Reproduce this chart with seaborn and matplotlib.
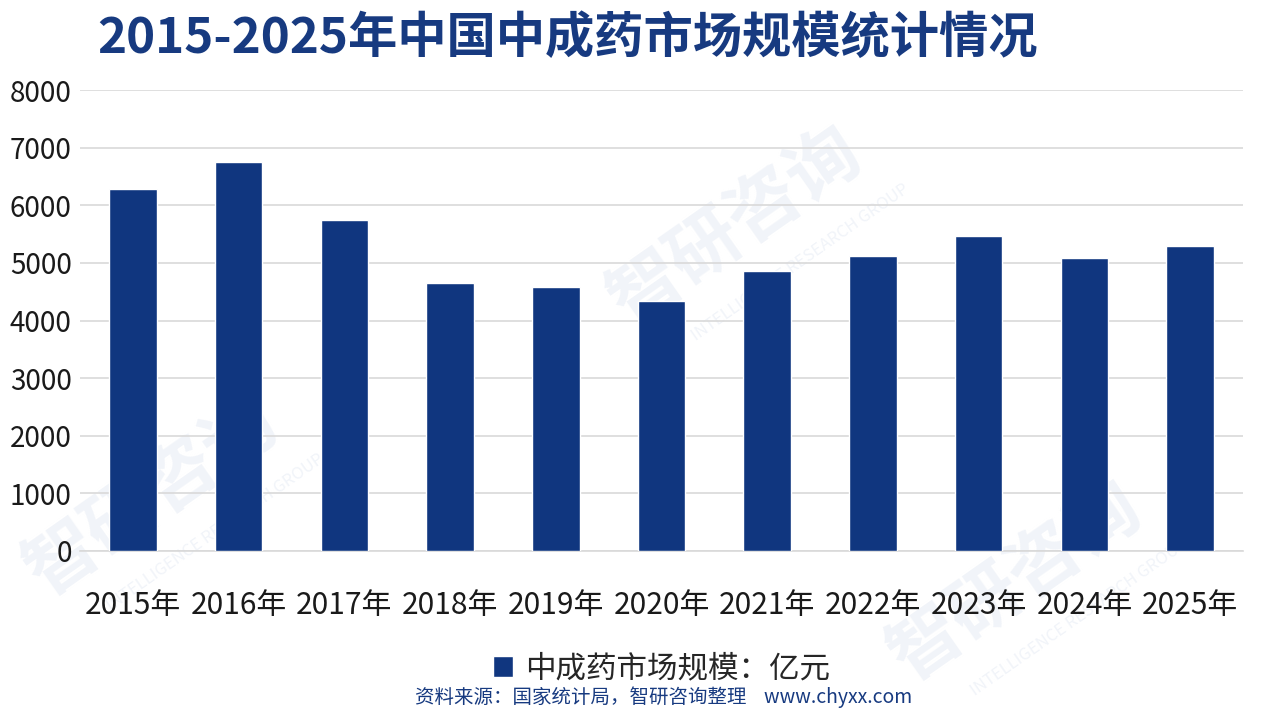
import pandas as pd
import matplotlib.pyplot as plt
import seaborn as sns

# 数据（亿元）
years = ['2015年', '2016年', '2017年', '2018年', '2019年', '2020年',
         '2021年', '2022年', '2023年', '2024年', '2025年']
market_size = [6285, 6753, 5747, 4653, 4583, 4340, 4861, 5122, 5469, 5087, 5295]
series_name = '中成药市场规模：亿元'
y_ticks = [0, 1000, 2000, 3000, 4000, 5000, 6000, 7000, 8000]

df = pd.DataFrame({'年份': years, '规模': market_size, '系列': series_name})

sns.set_theme(style='white')
plt.rcParams['font.family'] = ['Noto Sans CJK SC', 'DejaVu Sans']

bar_color = '#10367f'
title_color = '#173a80'

fig = plt.figure(figsize=(12.7, 7.1), dpi=100)
ax = fig.add_axes([80 / 1270, 1 - 551 / 710, 1163 / 1270, 461 / 710])
ax.set_zorder(2)

# 水印（放在图表后面）
wm = '#f1f4f9'
for x, y in [(0.58, 0.68), (0.12, 0.30), (0.80, 0.18)]:
    fig.text(x, y, '智研咨询', fontsize=52, color=wm, rotation=35,
             ha='center', va='center', fontweight='bold', zorder=-5)
    fig.text(x + 0.05, y - 0.05, 'INTELLIGENCE RESEARCH GROUP', fontsize=12,
             color=wm, rotation=35, ha='center', va='center', zorder=-5)

sns.barplot(data=df, x='年份', y='规模', hue='系列', palette=[bar_color],
            width=0.45, ax=ax, saturation=1, zorder=3)

ax.set_ylim(0, 8000)
ax.set_xlim(-0.5, len(years) - 0.5)
ax.set_yticks(y_ticks)
ax.set_yticklabels([str(v) for v in y_ticks])
ax.yaxis.grid(True, color='#d9d9d9', linewidth=1.2, zorder=0)
ax.set_axisbelow(True)
ax.set_facecolor('none')
for side in ['top', 'right', 'left']:
    ax.spines[side].set_visible(False)
ax.spines['bottom'].set_color('#d9d9d9')
ax.spines['bottom'].set_linewidth(1.2)
ax.tick_params(axis='both', length=0, labelsize=21.5, colors='#1a1a1a')
ax.tick_params(axis='x', pad=28)
ax.tick_params(axis='y', labelsize=20, pad=6)
ax.set_xlabel('')
ax.set_ylabel('')

leg = ax.legend(loc='center', bbox_to_anchor=(0.5, -0.255), frameon=False,
                fontsize=22, handlelength=0.65, handleheight=0.65, handletextpad=0.4)

fig.text(97 / 1270, 1 - 38 / 710, '2015-2025年中国中成药市场规模统计情况',
         fontsize=35.5, fontweight='bold', color=title_color, ha='left', va='center')

fig.text(415 / 1270, 1 - 697 / 710, '资料来源：国家统计局，智研咨询整理    www.chyxx.com',
         fontsize=14, color=title_color, ha='left', va='center')

fig.savefig('out.png', dpi=100)
